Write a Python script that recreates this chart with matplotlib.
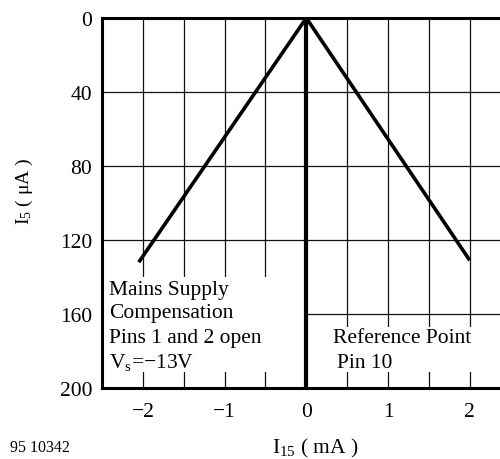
import matplotlib
matplotlib.use("Agg")
import matplotlib.pyplot as plt
from matplotlib.patches import Rectangle

plt.rcParams['font.family'] = ['Liberation Serif', 'DejaVu Serif']
plt.rcParams['mathtext.fontset'] = 'custom'
plt.rcParams['mathtext.rm'] = 'Liberation Serif'
plt.rcParams['mathtext.it'] = 'Liberation Serif:italic'
plt.rcParams['mathtext.bf'] = 'Liberation Serif:bold'

# data
left_x = [0.0, -2.05]
left_y = [0.0, 132.0]
right_x = [0.0, 2.0]
right_y = [0.0, 131.0]
x_ticks = [-2, -1, 0, 1, 2]
x_ticklabels = ['\u22122', '\u22121', '0', '1', '2']
y_ticks = [0, 40, 80, 120, 160, 200]
y_ticklabels = ['0', '40', '80', '120', '160', '200']
x_grid = [-2.0, -1.5, -1.0, -0.5, 0.5, 1.0, 1.5, 2.0]
y_grid = [40, 80, 120, 160]

FS = 15.5

fig = plt.figure(figsize=(5.0, 4.6), dpi=100)
ax = fig.add_axes([0.204, 0.1543, 0.796, 0.8044])
ax.set_xlim(-2.5, 2.37)
ax.set_ylim(200, 0)

for xv in x_grid:
    ax.axvline(xv, color='#111111', lw=0.9, zorder=1)
for yv in y_grid:
    ax.axhline(yv, color='#111111', lw=0.9, zorder=1)

# white boxes behind annotation text
ax.add_patch(Rectangle((-2.5, 140), 2.5, 51.5, facecolor='white', edgecolor='none', zorder=2))
ax.add_patch(Rectangle((0, 167), 2.4, 24.5, facecolor='white', edgecolor='none', zorder=2))

ax.axvline(0, color='black', lw=3.0, zorder=4)
ax.plot(left_x, left_y, color='black', lw=2.6, zorder=5, solid_capstyle='butt')
ax.plot(right_x, right_y, color='black', lw=2.6, zorder=5, solid_capstyle='butt')

for s in ['top', 'bottom', 'left']:
    ax.spines[s].set_linewidth(2.2)
    ax.spines[s].set_zorder(6)
ax.spines['right'].set_visible(False)

ax.set_xticks(x_ticks)
ax.set_xticklabels(x_ticklabels)
ax.set_yticks(y_ticks)
ax.set_yticklabels(y_ticklabels)
ax.tick_params(axis='both', length=0, labelsize=FS)
ax.tick_params(axis='x', pad=10)
ax.tick_params(axis='y', pad=7)

ax.text(-2.41, 149.2, 'Mains Supply', fontsize=FS, va='baseline', ha='left', zorder=7)
ax.text(-2.41, 161.8, 'Compensation', fontsize=FS, va='baseline', ha='left', zorder=7)
ax.text(-2.41, 175.2, 'Pins 1 and 2 open', fontsize=FS, va='baseline', ha='left', zorder=7)
ax.text(-2.41, 188.6, 'V$_\\mathrm{s}$=\u221213V', fontsize=FS, va='baseline', ha='left', zorder=7)
ax.text(0.33, 175.2, 'Reference Point', fontsize=FS, va='baseline', ha='left', zorder=7)
ax.text(0.38, 188.6, 'Pin 10', fontsize=FS, va='baseline', ha='left', zorder=7)

fig.text(24 / 500, 1 - 191 / 460, 'I$_5$ ( \u03bcA )', rotation=90, fontsize=14,
         ha='center', va='center')
fig.text(315 / 500, 1 - 448 / 460, 'I$_{15}$ ( mA )', fontsize=FS, ha='center', va='center')
fig.text(10 / 500, 1 - 448 / 460, '95 10342', fontsize=11.5, ha='left', va='center')

fig.savefig('out.png', dpi=100)
